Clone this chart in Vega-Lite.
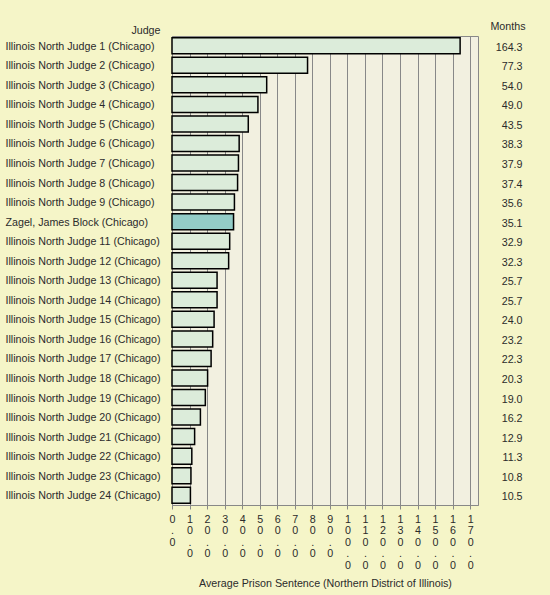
{
  "$schema": "https://vega.github.io/schema/vega-lite/v6.json",
  "autosize": {"type": "none"},
  "width": 306,
  "height": 469,
  "padding": {"left": 172, "top": 36, "right": 72, "bottom": 90},
  "background": "#f5f5c8",
  "config": {
    "font": "Liberation Sans",
    "view": {"fill": "#f2f0e0", "stroke": "#888888", "strokeWidth": 1},
    "axis": {"labelColor": "#2b2b2b", "titleColor": "#2b2b2b", "labelFontSize": 10.7, "titleFontSize": 10.7, "titleFontWeight": "normal", "labelFont": "Liberation Sans", "titleFont": "Liberation Sans"},
    "scale": {"bandPaddingInner": 0.18, "bandPaddingOuter": 0.09}
  },
  "data": {
    "values": [
      {"Judge": "Illinois North Judge 1 (Chicago)", "Months": 164.3, "Key": "1|164.3"},
      {"Judge": "Illinois North Judge 2 (Chicago)", "Months": 77.3, "Key": "2|77.3"},
      {"Judge": "Illinois North Judge 3 (Chicago)", "Months": 54.0, "Key": "3|54.0"},
      {"Judge": "Illinois North Judge 4 (Chicago)", "Months": 49.0, "Key": "4|49.0"},
      {"Judge": "Illinois North Judge 5 (Chicago)", "Months": 43.5, "Key": "5|43.5"},
      {"Judge": "Illinois North Judge 6 (Chicago)", "Months": 38.3, "Key": "6|38.3"},
      {"Judge": "Illinois North Judge 7 (Chicago)", "Months": 37.9, "Key": "7|37.9"},
      {"Judge": "Illinois North Judge 8 (Chicago)", "Months": 37.4, "Key": "8|37.4"},
      {"Judge": "Illinois North Judge 9 (Chicago)", "Months": 35.6, "Key": "9|35.6"},
      {"Judge": "Zagel, James Block (Chicago)", "Months": 35.1, "Key": "10|35.1"},
      {"Judge": "Illinois North Judge 11 (Chicago)", "Months": 32.9, "Key": "11|32.9"},
      {"Judge": "Illinois North Judge 12 (Chicago)", "Months": 32.3, "Key": "12|32.3"},
      {"Judge": "Illinois North Judge 13 (Chicago)", "Months": 25.7, "Key": "13|25.7"},
      {"Judge": "Illinois North Judge 14 (Chicago)", "Months": 25.7, "Key": "14|25.7"},
      {"Judge": "Illinois North Judge 15 (Chicago)", "Months": 24.0, "Key": "15|24.0"},
      {"Judge": "Illinois North Judge 16 (Chicago)", "Months": 23.2, "Key": "16|23.2"},
      {"Judge": "Illinois North Judge 17 (Chicago)", "Months": 22.3, "Key": "17|22.3"},
      {"Judge": "Illinois North Judge 18 (Chicago)", "Months": 20.3, "Key": "18|20.3"},
      {"Judge": "Illinois North Judge 19 (Chicago)", "Months": 19.0, "Key": "19|19.0"},
      {"Judge": "Illinois North Judge 20 (Chicago)", "Months": 16.2, "Key": "20|16.2"},
      {"Judge": "Illinois North Judge 21 (Chicago)", "Months": 12.9, "Key": "21|12.9"},
      {"Judge": "Illinois North Judge 22 (Chicago)", "Months": 11.3, "Key": "22|11.3"},
      {"Judge": "Illinois North Judge 23 (Chicago)", "Months": 10.8, "Key": "23|10.8"},
      {"Judge": "Illinois North Judge 24 (Chicago)", "Months": 10.5, "Key": "24|10.5"}
    ]
  },
  "encoding": {
    "x": {
      "field": "Months",
      "type": "quantitative",
      "scale": {"domain": [0, 174.5], "nice": false, "zero": true},
      "axis": {
        "title": "Average Prison Sentence (Northern District of Illinois)",
        "values": [0, 10, 20, 30, 40, 50, 60, 70, 80, 90, 100, 110, 120, 130, 140, 150, 160, 170],
        "format": ".1f",
        "labelExpr": "split(datum.label, '')",
        "labelAngle": 0,
        "labelAlign": "center",
        "labelBaseline": "top",
        "labelLineHeight": 11.5,
        "labelPadding": 5,
        "labelOverlap": false,
        "labelFlush": false,
        "tickSize": 4,
        "tickColor": "#888888",
        "domainColor": "#888888",
        "grid": true,
        "gridColor": "#888888",
        "gridOpacity": 1,
        "titlePadding": 9
      }
    }
  },
  "layer": [
    {
      "mark": {"type": "bar", "stroke": "#000000", "strokeWidth": 1.5},
      "encoding": {
        "y": {
          "field": "Judge",
          "type": "nominal",
          "sort": null,
          "axis": {
            "title": "Judge",
            "ticks": false,
            "domain": false,
            "grid": false,
            "labelAlign": "left",
            "labelPadding": 167,
            "labelOffset": 1,
            "labelLimit": 300,
            "titleAngle": 0,
            "titleAlign": "right",
            "titleBaseline": "bottom",
            "titleX": -12,
            "titleY": -1
          }
        },
        "color": {
          "condition": {"test": "datum.Judge === 'Zagel, James Block (Chicago)'", "value": "#93ccc7"},
          "value": "#dcecda"
        }
      }
    },
    {
      "mark": {"type": "bar", "opacity": 0},
      "encoding": {
        "y": {
          "field": "Key",
          "type": "nominal",
          "sort": null,
          "axis": {
            "orient": "right",
            "title": "Months",
            "ticks": false,
            "domain": false,
            "grid": false,
            "labelAlign": "right",
            "labelPadding": 44,
            "labelOffset": 2,
            "labelExpr": "split(datum.label, '|')[1]",
            "titleAngle": 0,
            "titleAlign": "right",
            "titleBaseline": "bottom",
            "titleX": 47,
            "titleY": -5
          }
        }
      }
    }
  ],
  "resolve": {"scale": {"y": "independent"}}
}
